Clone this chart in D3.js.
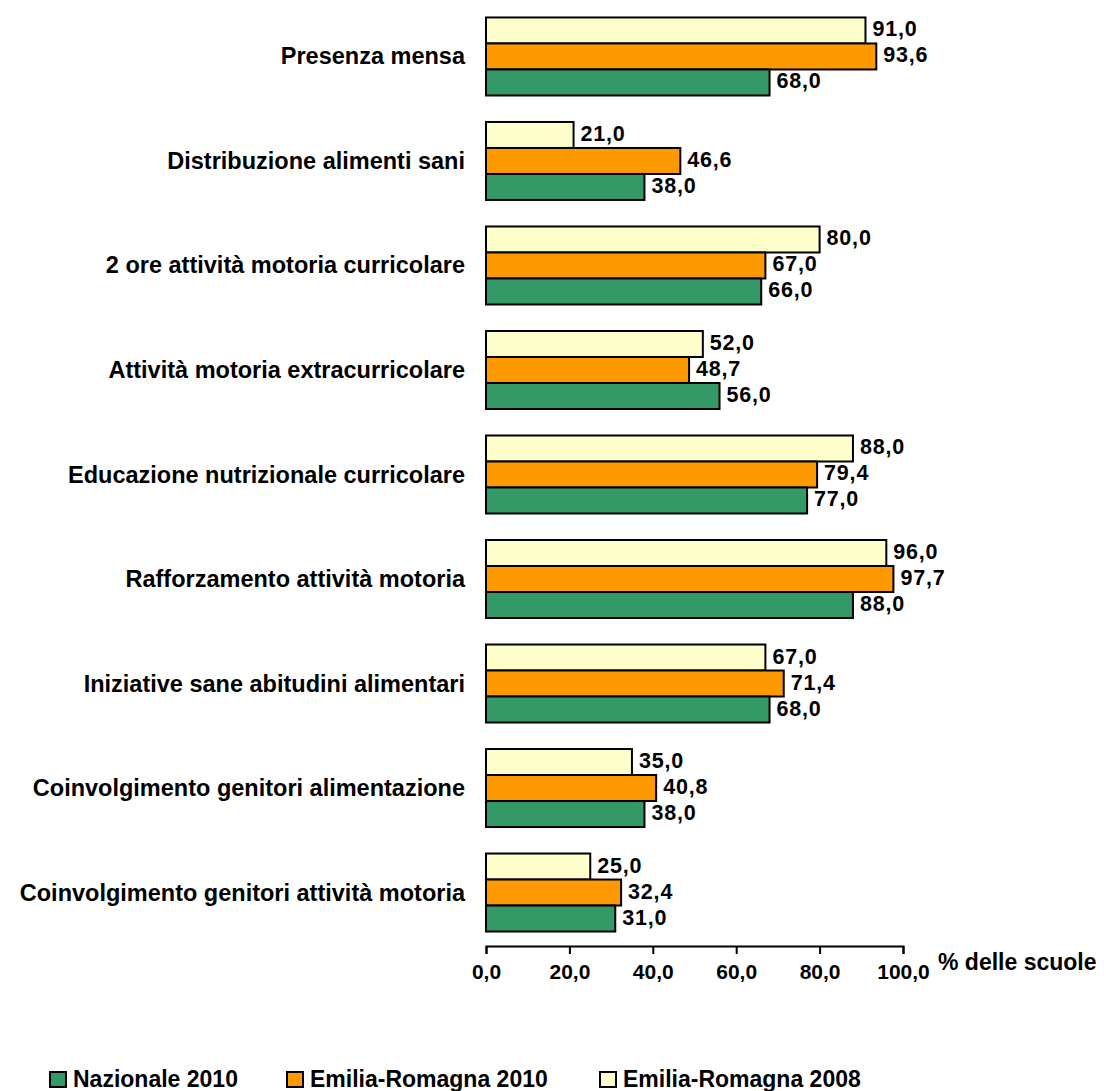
<!DOCTYPE html>
<html>
<head>
<meta charset="utf-8">
<script src="https://cdn.jsdelivr.net/npm/d3@7/dist/d3.min.js"></script>
<style>
  body { margin: 0; background: #fff; }
  svg { display: block; font-family: "Liberation Sans", Arial, sans-serif; font-weight: bold; }
</style>
</head>
<body>
<svg class="canvas"></svg>
<script>
// Data
const categories = [
  "Presenza mensa",
  "Distribuzione alimenti sani",
  "2 ore attività motoria curricolare",
  "Attività motoria extracurricolare",
  "Educazione nutrizionale curricolare",
  "Rafforzamento attività motoria",
  "Iniziative sane abitudini alimentari",
  "Coinvolgimento genitori alimentazione",
  "Coinvolgimento genitori attività motoria"
];
const er2008 = [91.0, 21.0, 80.0, 52.0, 88.0, 96.0, 67.0, 35.0, 25.0];
const er2010 = [93.6, 46.6, 67.0, 48.7, 79.4, 97.7, 71.4, 40.8, 32.4];
const naz2010 = [68.0, 38.0, 66.0, 56.0, 77.0, 88.0, 68.0, 38.0, 31.0];
const seriesNames = ["Emilia-Romagna 2008", "Emilia-Romagna 2010", "Nazionale 2010"];
const xTicks = [0, 20, 40, 60, 80, 100];
const legendOrder = ["Nazionale 2010", "Emilia-Romagna 2010", "Emilia-Romagna 2008"];

// Setting constants
const wWidth = 1106;
const wHeight = 1091;
const colors = {
  "Emilia-Romagna 2008": "#ffffcc",
  "Emilia-Romagna 2010": "#ff9900",
  "Nazionale 2010": "#339966"
};

const locale = d3.formatLocale({decimal: ",", thousands: ".", grouping: [3], currency: ["", "€"]});
const fmt = locale.format(".1f");

const svg = d3.select('.canvas')
  .attr("width", wWidth)
  .attr("height", wHeight);

// Scales
const xScale = d3.scaleLinear()
  .domain([0, 100])
  .range([486, 903]);

const yScale = d3.scaleBand()
  .domain(categories)
  .range([2, 947])
  .paddingInner(0.2536)
  .paddingOuter(0.148);

const ySub = d3.scaleBand()
  .domain(seriesNames)
  .range([0, yScale.bandwidth()]);

const table = categories.map((c, i) => ({
  cat: c,
  vals: [
    {name: seriesNames[0], v: er2008[i]},
    {name: seriesNames[1], v: er2010[i]},
    {name: seriesNames[2], v: naz2010[i]}
  ]
}));

// Groups of bars
const groups = svg.append('g').selectAll('g')
  .data(table)
  .enter()
  .append('g')
  .attr('transform', d => `translate(0, ${yScale(d.cat)})`);

groups.selectAll('rect')
  .data(d => d.vals)
  .enter()
  .append('rect')
  .attr('x', xScale(0))
  .attr('y', d => ySub(d.name))
  .attr('width', d => xScale(d.v) - xScale(0))
  .attr('height', ySub.bandwidth())
  .attr('fill', d => colors[d.name])
  .attr('stroke', '#000')
  .attr('stroke-width', 2);

// Value labels
groups.selectAll('text.val')
  .data(d => d.vals)
  .enter()
  .append('text')
  .attr('class', 'val')
  .attr('x', d => xScale(d.v) + 7)
  .attr('y', d => ySub(d.name) + ySub.bandwidth() / 2 + 6)
  .attr('font-size', 21.5)
  .attr('letter-spacing', 0.8)
  .text(d => fmt(d.v));

// Category labels
svg.append('g').selectAll('text')
  .data(categories)
  .enter()
  .append('text')
  .attr('x', 465)
  .attr('y', d => yScale(d) + yScale.bandwidth() / 2 + 8)
  .attr('text-anchor', 'end')
  .attr('font-size', 23.5)
  .text(d => d);

// X axis
const xAxisGroup = svg.append('g')
  .attr('transform', `translate(0, ${yScale.range()[1] - 1})`);
xAxisGroup.call(d3.axisBottom(xScale).tickValues(xTicks).tickFormat(fmt).tickSizeOuter(0).tickSize(8).tickPadding(10));
xAxisGroup.select('.domain').attr('stroke', '#000').attr('stroke-width', 2);
xAxisGroup.selectAll('.tick line').attr('stroke', '#000').attr('stroke-width', 2);
xAxisGroup.selectAll('.tick text')
  .attr('font-family', '"Liberation Sans", Arial, sans-serif')
  .attr('font-weight', 'bold')
  .attr('font-size', 21)
  .attr('fill', '#000');

svg.append('text')
  .attr('x', 938)
  .attr('y', 970)
  .attr('font-size', 23)
  .text('% delle scuole');

// Legend
const legendX = [50, 287, 600];
const legend = svg.append('g').selectAll('g')
  .data(legendOrder)
  .enter()
  .append('g')
  .attr('transform', (d, i) => `translate(${legendX[i]}, 1072)`);
legend.append('rect')
  .attr('width', 16)
  .attr('height', 15)
  .attr('fill', d => colors[d])
  .attr('stroke', '#000')
  .attr('stroke-width', 2);
legend.append('text')
  .attr('x', 23)
  .attr('y', 15)
  .attr('font-size', 23)
  .text(d => d);
</script>
</body>
</html>
